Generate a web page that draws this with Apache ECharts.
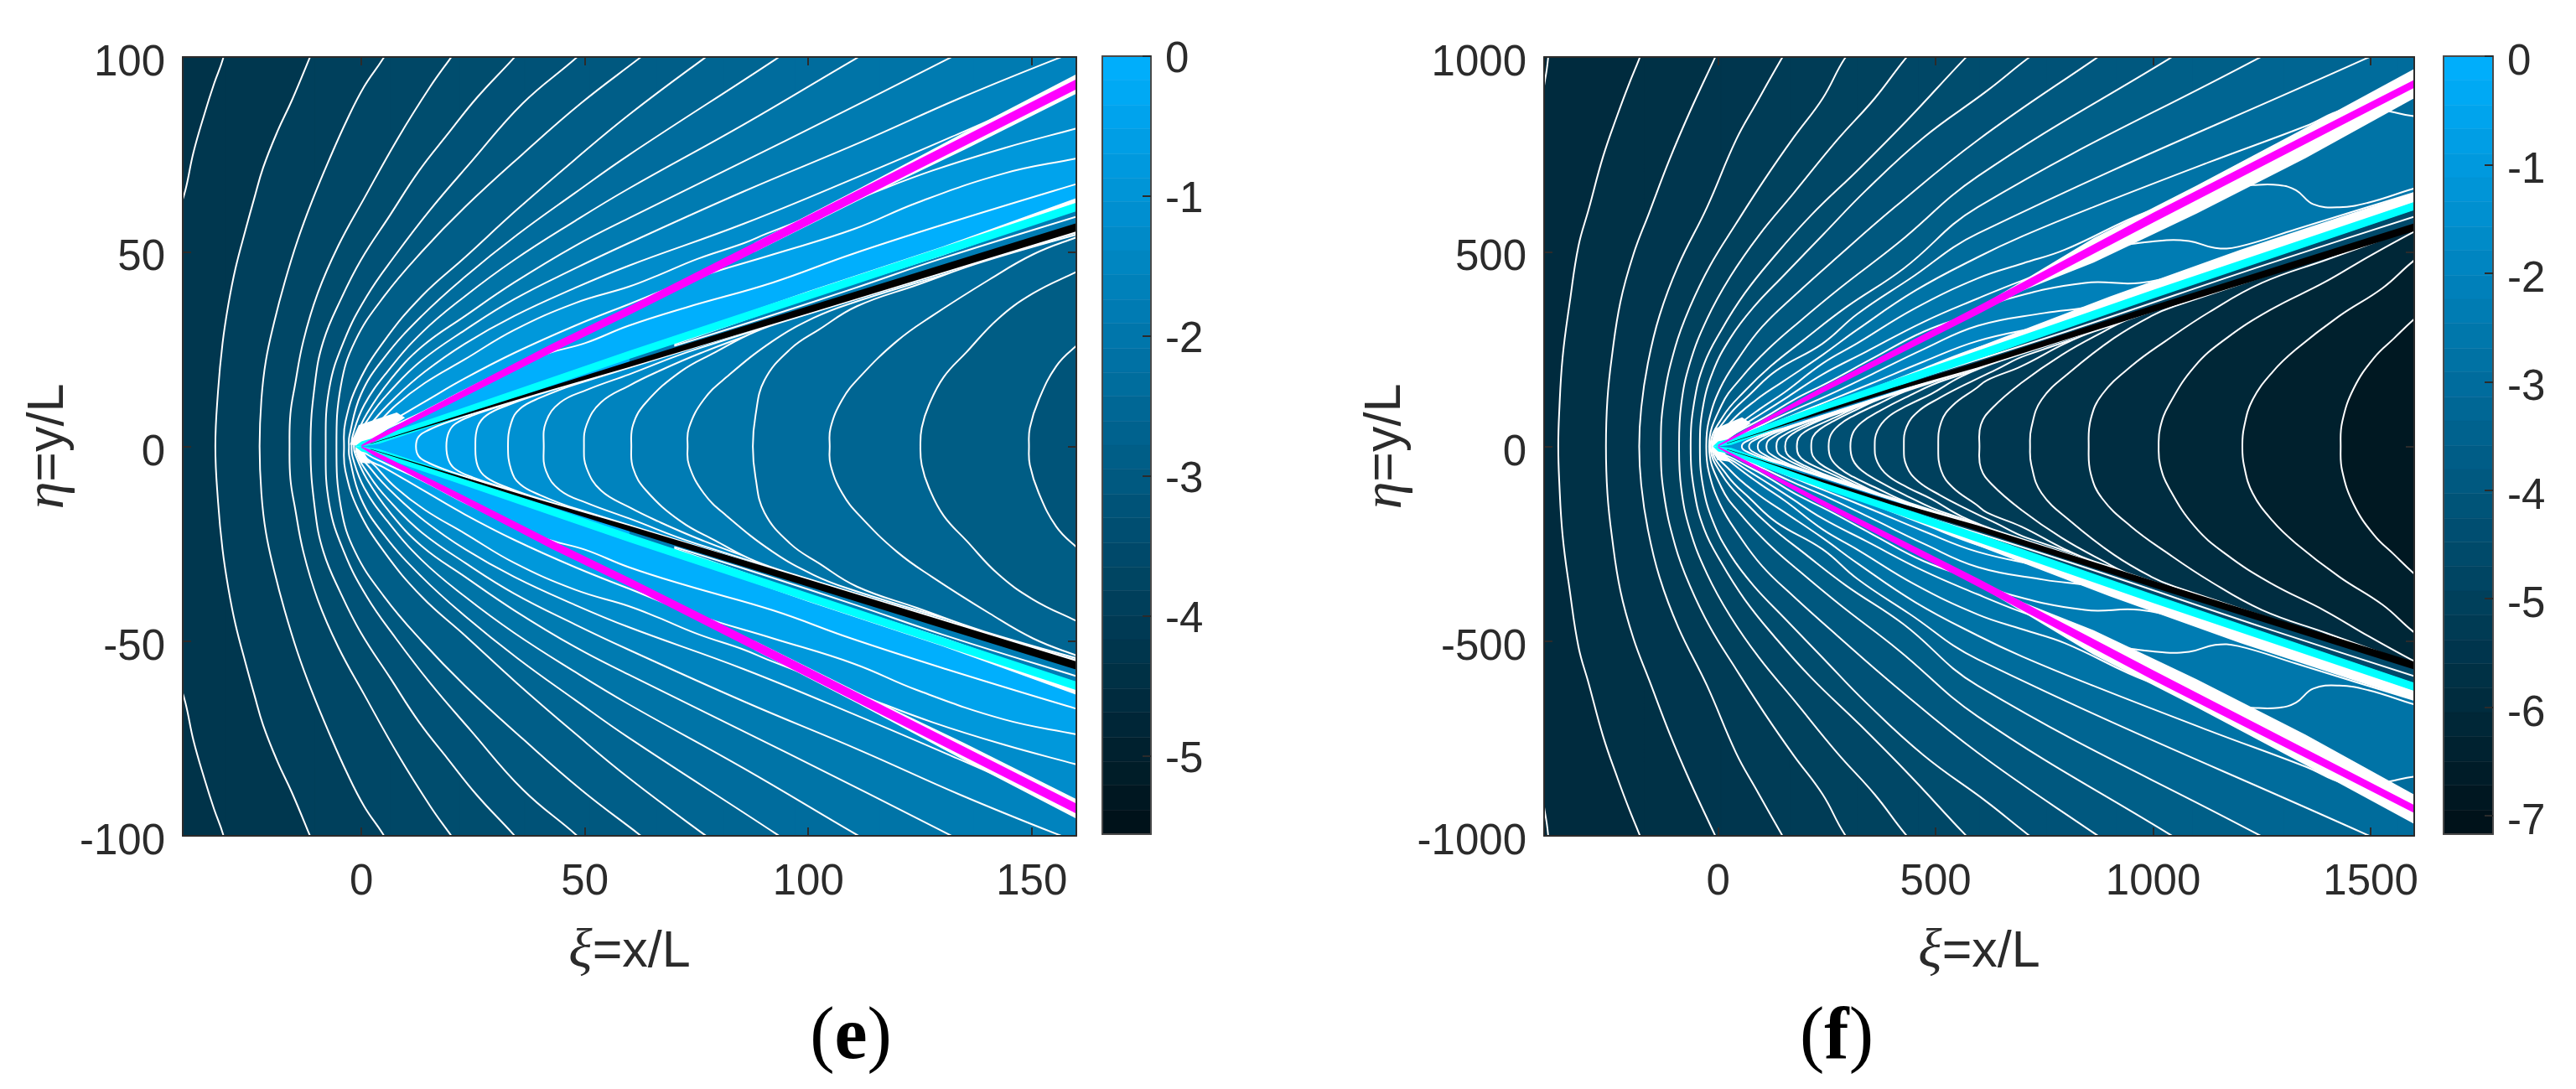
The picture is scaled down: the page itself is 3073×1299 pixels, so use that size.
<!DOCTYPE html>
<html><head><meta charset="utf-8"><style>html,body{margin:0;padding:0;background:#fff}#c{width:3073px;height:1299px}</style>
<script src="https://cdn.jsdelivr.net/npm/echarts@6/dist/echarts.min.js"></script></head><body><div id="c"></div>
<script>
// ---------- tick labels ----------
const eXTicks=[0,50,100,150], eYTicks=[-100,-50,0,50,100], eCbTicks=[0,-1,-2,-3,-4,-5];
const fXTicks=[0,500,1000,1500], fYTicks=[-1000,-500,0,500,1000], fCbTicks=[0,-1,-2,-3,-4,-5,-6,-7];
// ---------- colour-bar levels ----------
const eCbEdges=[0,-.17,-.35,-.52,-.70,-.87,-1.04,-1.22,-1.39,-1.56,-1.74,-1.91,-2.09,-2.26,-2.43,-2.61,-2.78,-2.95,-3.13,-3.30,-3.48,-3.65,-3.82,-4.00,-4.17,-4.34,-4.52,-4.69,-4.87,-5.04,-5.21,-5.39,-5.56];
const fCbEdges=[0,-.22,-.45,-.67,-.90,-1.12,-1.34,-1.57,-1.79,-2.02,-2.24,-2.46,-2.69,-2.91,-3.14,-3.36,-3.59,-3.81,-4.03,-4.26,-4.48,-4.70,-4.93,-5.15,-5.38,-5.60,-5.82,-6.05,-6.27,-6.50,-6.72,-6.95,-7.17];
// ---------- panel (e) contours: upper half, [xi, eta] ----------
const eOuter=[
[[-50,0],[-48,35],[-41,60],[-39.4,65.8],[-37.6,75.5],[-35,85.9],[-33,93.1],[-31,99.5],[-30.5,103]],
[[-32.7,0],[-32.1,14.2],[-31.1,26.4],[-29.8,36.4],[-28.2,45.7],[-25.9,55.8],[-24,63.7],[-22,71.6],[-18.8,80.9],[-15.6,88.8],[-11.7,99.5],[-10.5,103]],
[[-22.8,0],[-22.4,12],[-21.4,22],[-19.5,32.1],[-17.2,42.1],[-14.3,52.9],[-11.1,62.9],[-7.2,73.7],[-3.3,83.7],[.6,92.4],[4.8,99.5],[6.5,103]],
[[-16.1,0],[-15.9,8.4],[-14.9,15.6],[-13,27.1],[-9.8,39.3],[-5.2,51.5],[.6,63.7],[8.3,79.4],[15.4,92.4],[19.8,99.5],[22,103]],
[[-11.4,0],[-10.4,16.3],[-8.5,27.1],[-4.6,37.8],[-.1,47.9],[6.4,59.4],[12.9,70.8],[19.3,80.2],[25.8,89.5],[33.9,99.5],[36.5,103]],
[[-8,0],[-7.2,14.9],[-3.9,27.1],[1.2,38.6],[7.7,49.3],[15.4,60.8],[24.5,73],[36.1,88.1],[47.8,99.5],[51,103]],
[[-5.6,0],[-4.6,15.6],[-1.4,27.1],[5.1,38.6],[13.5,50],[23.2,61.5],[36.1,75.1],[49.1,88.1],[62,99.5],[66,103]],
[[-3.9,0],[-3.6,6.3],[-.7,16.3],[5.1,27.1],[13.5,38.6],[23.2,48.6],[34.8,60.8],[47.8,73.7],[59.9,85.2],[76.5,99.5],[81,103]],
[[-2.8,0],[-2.7,2.7],[-.1,13.4],[5.1,22.8],[13.5,33.5],[23.2,43.6],[34.8,54.3],[47.8,65.1],[59.8,74.8],[92.8,99.5],[97,103]],
[[-2.2,0],[-2,2.7],[.6,10.6],[5.8,19.2],[13.5,29.2],[23.2,38.6],[34.2,47.9],[47.8,57.9],[59.8,66.2],[85.6,82.7],[110.5,99.5],[116,103]],
[[-1.7,0],[-1.4,2],[1.2,8.4],[6.4,17],[13.5,25.6],[23.2,33.5],[34.2,42.1],[47.8,51.5],[59.8,58.6],[95.3,78.7],[131.2,99.5],[137,103]],
[[-1.2,0],[1.9,7.7],[7,14.9],[13.5,22.1],[23.2,29.9],[34.2,37.8],[47.8,45.7],[59.8,52.2],[85.6,65.5],[111.5,78],[134.1,89.5],[155.5,99.5],[164,103]],
[[-1,0],[2.5,6.3],[7.7,12.7],[14.2,19.2],[23.2,26.4],[34.2,33.5],[47.8,40.7],[59.8,46.4],[85.6,57.2],[111.5,69.4],[134.1,80.5],[165,96]],
[[-.8,0],[3.2,5.2],[7.7,10.6],[14.2,16.3],[23.2,22.4],[34.2,29.9],[47.8,36.8],[59.8,41],[66.3,43.9],[75.3,48.2],[85.6,52.2],[90.8,54.7],[112.8,64.4],[127.7,70.8],[143.8,76.6],[159.8,81.6],[166,83.5]],
[[-.7,0],[1.5,3.4],[5,5.4],[14,11.4],[23.2,17.5],[34.2,24],[47.8,31],[59.8,36.5],[74.7,43.2],[92.1,49.3],[110.2,55.8],[124.4,62.6],[143.8,70.1],[159.8,73.9],[166,75.3]],
[[-.6,0],[1.5,2.2],[5,4.2],[14,9],[23.2,14.5],[34.2,20.5],[42,24],[50,26.5],[59.8,31],[72.7,35.7],[92.1,42.1],[109.6,49.3],[130.9,57.2],[159.8,67.3],[166,69.3]]
];
const eOuterLevels=[-4.2,-3.9,-3.65,-3.45,-3.25,-3.05,-2.85,-2.6,-2.35,-2.1,-1.85,-1.55,-1.25,-.85,-.45,-.05];
const eInner=[
[[12.2,0],[12.8,2.5],[15,4.2],[20,6.5],[33,11.3],[166,58]],
[[19,0],[19.5,3.5],[21,5.8],[25,8],[33,11],[166,57.8]],
[[25.5,0],[26,5],[28,8],[33,10.7],[40,13.5],[166,57.7]],
[[32.8,0],[33.5,6],[35.5,9.7],[40,12.5],[48,16],[166,57.6]],
[[40.8,0],[41.3,6.3],[44.5,11.3],[50.4,14.5],[59.9,18.5],[75,25],[166,57.5]],
[[49.8,0],[50.4,5.6],[53.6,11.3],[59.9,15.6],[66.3,19.2],[76,24],[87.9,29],[166,57.3]],
[[60.4,0],[60.8,5.6],[63.7,11.3],[71.4,19.2],[79.2,24.2],[88.2,29.5],[98.6,33.5],[130,44.5],[166,57]],
[[73,0],[73.3,4.8],[76.6,12],[81.7,17.8],[92.1,27.1],[101.2,33],[108.9,36.5],[130,44],[166,56.5]],
[[87.6,0],[88.2,8],[90.2,17],[96,25],[102.4,30],[110.9,36],[124.4,41.5],[139.3,47.5],[166,56.2]],
[[104.8,0],[105,4.8],[107.6,12],[111.5,17.8],[119.9,27.1],[127.7,33.5],[140.6,42.9],[150.3,49.3],[159.8,53.6],[166,56]],
[[125.1,0],[125.4,4.8],[127,10.6],[130.3,17.8],[135.4,24.2],[142.5,32.8],[150.3,39.3],[159.8,44.7],[166,48]],
[[149.4,0],[149.6,4.8],[151.6,12],[155.5,20.6],[159.8,25.6],[166,31]]
];
const eInnerLevels=[-.4,-.65,-.9,-1.1,-1.35,-1.55,-1.8,-2.1,-2.35,-2.6,-2.9,-3.2];
const eStripLine=[[70,25.8],[90,33],[110,40.5],[130,48.3],[160,59],[166,61]];
const eStrip=[[60,21.5,22.8],[90,31.6,34.6],[130,46,50.5],[166,58,64]];
const eBlobUp=[[-2.6,.5],[-.6,5.5],[7.9,8.7],[9.75,7.4],[0,0]];
const eBlobDown=[[-1.5,-1],[-.2,-4.2],[2,-4.4],[.4,-1.2]];
const eMagentaHalo=[[88,49.9,52.3],[111,63,66],[135,76.2,80.7],[160,90.6,95.6],[166,94,99]];
const eCyanHalo=[[70,26,27.9],[100,38,39.9],[130,49,51.3],[160,61,63.8],[166,63,66]];
const eMagenta=[[0,0,.3],[3,1.3,2.5],[20,11,12.8],[42.6,24.1,26.3],[60,33.8,36],[90,51,53.5],[160,91.7,94.3],[166,95,98]];
const eCyan=[[-1.5,0,0],[0,0,1.3],[4,.7,2.6],[20,6.8,8.8],[60,22.5,24.6],[160,60.4,62.6],[166,62.7,65]];
const eBlack=[[2,.65,.75],[20,6.9,7.3],[40,13.8,14.6],[60,20.4,21.8],[100,34.2,36],[160,55.2,57.3],[166,57.3,59.5]];
// ---------- panel (f) contours ----------
const fOuter=[
[[-470,0],[-440,500],[-402,910],[-394,967],[-391,995],[-389,1030]],
[[-367.4,0],[-365.4,84],[-357.5,228],[-340.9,371],[-320.9,515],[-297.7,608],[-264.5,744],[-231.2,852],[-204.7,931],[-181.4,995],[-170,1030]],
[[-257.8,0],[-254.5,120],[-244.5,228],[-224.6,371],[-194.7,493],[-158.1,601],[-111.6,737],[-65.1,859],[-8.6,995],[6,1030]],
[[-181.4,0],[-176.7,99],[-161.5,213],[-134.9,335],[-91.7,464],[-25.2,615],[41.2,787],[87.7,881],[145.5,995],[165,1030]],
[[-131.6,0],[-124.9,120],[-98.3,256],[-65.1,357],[-18.6,464],[41.2,572],[107.6,687],[174.1,794],[240.5,894],[290.4,995],[320,1030]],
[[-89.7,0],[-85,106],[-65.1,213],[-25.2,328],[27.9,436],[94.4,543],[174.1,651],[273.8,787],[360.1,894],[429.9,995],[460,1030]],
[[-63.1,0],[-55.1,113],[-31.9,213],[8,300],[61.1,393],[127.6,486],[214,594],[326.9,716],[439.9,844],[566.1,995],[600,1030]],
[[-41.9,0],[-35.2,99],[-12,192],[27.9,278],[81.1,357],[154.2,443],[240.5,543],[340.2,658],[473.1,794],[617.9,913],[710.3,995],[755,1030]],
[[-27.2,0],[-21.9,63],[4.7,149],[47.8,228],[101,307],[174.1,386],[273.8,486],[406.6,615],[597.3,787],[866.4,995],[915,1030]],
[[-20.6,0],[8,106],[54.5,178],[114.3,249],[187.4,321],[280.4,407],[413.3,522],[597.3,694],[1035.9,995],[1090,1030]],
[[-17.3,0],[11.3,77],[61.1,142],[120.9,206],[194,271],[293.7,357],[426.6,457],[597.3,615],[1238.5,995],[1300,1030]],
[[-14,0],[21.3,75],[74.4,135],[134.2,195],[240,264],[320,340],[439.9,430],[597.3,547],[1486.6,995],[1560,1030]],
[[-12,0],[28,62],[88,120],[147,165],[240,235],[320,300],[453,400],[597,486],[700,540],[863.1,615],[1128.9,730],[1351.5,823],[1440,865],[1527.6,863],[1598.6,848],[1660,845]],
[[-10.6,0],[34.6,45],[94.4,95],[154,140],[240,213],[320,265],[453,355],[597.3,432],[700,470],[796.7,505],[989.4,604],[1175.4,665],[1228.6,671],[1288.4,671],[1328.2,658],[1368.1,622],[1427.9,614],[1494.4,626],[1598.6,662],[1660,680]],
[[-9.9,0],[41,42],[101,85],[161,128],[240,185],[340,243],[473,320],[597,380],[697,425],[903,507.6],[1009.3,527.6],[1082.4,527.6],[1142.2,509.7],[1195.3,512.6],[1328.2,557.7],[1598.6,651],[1660,672]],
[[-8.6,0],[41,35],[107.6,75],[174,120],[254,165],[353.5,225],[473,295],[597,345],[663.8,378.4],[843.2,420],[969.4,420],[1082.4,450],[1261.8,514.8],[1598.6,643],[1660,665]],
[[-7.9,0],[41,24],[107,58],[174,93],[254,132],[353,185],[473,250],[597.3,310],[750,342.6],[863,360],[996,400],[1261.8,505],[1598.6,635],[1660,658]],
[[-7.2,0],[41,21],[107,51],[174,81],[254,117],[353,162],[473,218],[597.3,271],[800,325],[1100,447],[1600,632],[1660,655]],
[[-6.8,0],[41,19],[107,47],[174,73],[254,105],[353,147],[473,200],[597.3,253],[800,320],[1100,435],[1600,625],[1660,648]]
];
const fOuterLevels=[-5.95,-5.7,-5.45,-5.2,-4.95,-4.7,-4.45,-4.2,-3.95,-3.65,-3.35,-3.05,-2.75,-2.55,-2.35,-2.15,-1.95,-1.7,-1.4];
const fInner=[
[[54.5,0],[57,7],[67,14],[85,23],[115,35],[160,50],[1660,590]],
[[71,0],[74,9],[85,17],[105,27],[135,40],[180,56],[1660,590]],
[[91,0],[94,11],[105,20],[125,32],[155,45],[200,62],[1660,590]],
[[111,0],[114,13],[126,24],[148,38],[180,53],[230,72],[1660,590]],
[[134,0],[137,16],[150,28],[175,43],[210,60],[260,80],[1660,589]],
[[154,0],[158,19],[172,33],[200,50],[240,70],[290,90],[1660,589]],
[[181,0],[185,22],[200,38],[230,55],[270,75],[330,105],[1660,588]],
[[214,0],[218,25],[235,45],[265,65],[310,90],[380,125],[1660,588]],
[[254,0],[259,30],[278,55],[310,78],[360,105],[440,145],[1660,587]],
[[304,0],[310,35],[330,62],[370,90],[430,125],[520,170],[1660,587]],
[[360,0],[366,40],[390,75],[435,105],[490,135],[560,180],[650,220],[1660,586]],
[[427,0],[433,50],[460,90],[510,125],[570,160],[640,198],[710,235],[1660,586]],
[[506,0],[513,63],[540,106],[593,149],[618,170],[697,206],[796.7,264],[863,295],[1660,585]],
[[600.7,0],[604,56],[630.6,99],[697,163],[790,235],[883,293],[949.5,329],[1660,585]],
[[717,0],[720,48],[743.5,120],[810,192],[909.6,278],[996,335],[1049,360],[1660,585]],
[[851.8,0],[856.5,70],[883,134],[949.5,206],[1029,271],[1129,345],[1250,420],[1400,480],[1660,585]],
[[1012.6,0],[1016,48],[1036,106],[1095.7,206],[1168.8,278],[1268.4,350],[1394.7,422],[1494.4,487],[1597,550],[1660,585]],
[[1205,0],[1208.6,48],[1228.6,120],[1275,192],[1328,249],[1428,335],[1527.6,407],[1597,475],[1660,525]],
[[1431,0],[1434.5,63],[1461,149],[1508,228],[1554,278],[1597,324],[1660,385]]
];
const fInnerLevels=[-2.5,-2.75,-3,-3.25,-3.45,-3.7,-3.95,-4.15,-4.35,-4.55,-4.75,-5,-5.2,-5.4,-5.6,-5.85,-6.15,-6.45,-6.8];
const fStripLine=[[400,155],[800,295],[1262,468],[1600,590],[1660,612]];
const fStrip=[[200,70,76],[597,210,228],[1000,352,382],[1660,575,630]];
const fBlobUp=[[-15,2],[-8,45],[55,75],[75,60],[0,0]];
const fBlobDown=[[-12,-5],[-2,-35],[30,-40],[10,-8]];
const fMagentaHalo=[[610,350,365],[700,400,425],[863,472,535],[1100,598,670],[1350,740,818],[1598,893,968],[1660,930,1005]];
const fCyanHalo=[[450,175,190],[597,240,255],[900,352,385],[1200,472,505],[1600,627,652],[1660,650,675]];
const fMagenta=[[0,0,4],[50,28,36],[240,138,153],[597,339,360],[1000,575,600],[1598,920,940],[1660,955,975]];
const fCyan=[[-12,0,0],[0,0,13],[30,4,20],[100,32,52],[240,88,108],[597,224,246],[1000,380,402],[1598,606,627],[1660,630,651]];
const fBlack=[[20,7,8],[100,35,37],[240,86,92],[400,141,150],[597,203,217],[1000,345,362],[1598,552,572],[1660,574,594]];

// ---------- helpers ----------
const INK='#2b2b2b', FONT='"Liberation Sans",Arial,sans-serif';
const WHITE='#ffffff', SMOOTH=0.42, LW=2;
function col(v,range){const t=Math.max(0,Math.min(1,(v+range)/range));
 return 'rgb(0,'+Math.round(16+160*t)+','+Math.round(22+233*t)+')';}
const series=[];
function contour(ax,pts,v,range,xFar){
 series.push({type:'custom',xAxisIndex:ax,yAxisIndex:ax,silent:true,clip:true,animation:false,z:2,
  data:pts,encode:{x:0,y:1},
  renderItem(p,api){
   if(p.dataIndex!==0)return null;
   const upFwd=pts.map(q=>api.coord([q[0],q[1]]));
   const low=pts.map(q=>api.coord([q[0],-q[1]]));
   const children=[];
   if(v===null){
    children.push({type:'polyline',silent:true,shape:{points:upFwd,smooth:SMOOTH},style:{fill:null,stroke:WHITE,lineWidth:LW}});
    children.push({type:'polyline',silent:true,shape:{points:low,smooth:SMOOTH},style:{fill:null,stroke:WHITE,lineWidth:LW}});
    return {type:'group',children};
   }
   const full=upFwd.slice().reverse().concat(low.slice(1));
   const last=pts[pts.length-1];
   const fill=col(v,range);
   children.push({type:'polygon',silent:true,shape:{points:[api.coord([last[0],last[1]]),api.coord([xFar,last[1]]),api.coord([xFar,-last[1]]),api.coord([last[0],-last[1]])]},
     style:{fill:fill,stroke:fill,lineWidth:1}});
   children.push({type:'polyline',silent:true,shape:{points:full,smooth:SMOOTH},
    style:{fill:fill,stroke:WHITE,lineWidth:LW}});
   return {type:'group',children};
  }});
}
function band(ax,pts,color){
 series.push({type:'custom',xAxisIndex:ax,yAxisIndex:ax,silent:true,clip:true,animation:false,z:2,
  data:pts,encode:{x:0,y:1},
  renderItem(p,api){
   if(p.dataIndex!==0)return null;
   const make=s=>{const a=pts.map(q=>api.coord([q[0],s*q[1]]));const b=pts.map(q=>api.coord([q[0],s*q[2]])).reverse();return a.concat(b);};
   return {type:'group',children:[1,-1].map(s=>({type:'polygon',silent:true,shape:{points:make(s)},style:{fill:color}}))};
  }});
}
function blob(ax,pts){
 series.push({type:'custom',xAxisIndex:ax,yAxisIndex:ax,silent:true,clip:true,animation:false,z:2,
  data:pts,encode:{x:0,y:1},
  renderItem(p,api){
   if(p.dataIndex!==0)return null;
   return {type:'polygon',silent:true,shape:{points:pts.map(q=>api.coord(q))},style:{fill:WHITE}};
  }});
}
function colorbar(ax,edges,range){
 const rows=edges.slice(1).map((e,i)=>[0,e,1,edges[i]]);
 series.push({type:'custom',xAxisIndex:ax,yAxisIndex:ax,silent:true,clip:true,animation:false,z:2,
  data:rows,encode:{x:0,y:1},
  renderItem(p,api){
   const a=api.coord([0,api.value(3)]),b=api.coord([1,api.value(1)]);
   const mid=(api.value(1)+api.value(3))/2;
   const c=col(mid,range);
   return {type:'rect',silent:true,shape:{x:a[0],y:a[1],width:b[0]-a[0],height:b[1]-a[1]},style:{fill:c,stroke:c,lineWidth:.5}};
  }});
}
function panel(ax,d){
 d.outer.forEach((c,i)=>contour(ax,c,d.outerL[i],d.range,d.far));
 band(ax,d.strip,col(d.stripV,d.range));
 d.inner.forEach((c,i)=>contour(ax,c,d.innerL[i],d.range,d.far));
 contour(ax,d.stripLine,null,d.range,d.far);
 blob(ax,d.blobUp);blob(ax,d.blobDown);
 band(ax,d.mHalo,WHITE);band(ax,d.cHalo,WHITE);
 band(ax,d.cyan,'#00ffff');band(ax,d.black,'#000000');band(ax,d.magenta,'#ff00ff');
}
panel(0,{outer:eOuter,outerL:eOuterLevels,inner:eInner,innerL:eInnerLevels,range:5.56,far:175,strip:eStrip,stripV:-1.8,stripLine:eStripLine,blobUp:eBlobUp,blobDown:eBlobDown,mHalo:eMagentaHalo,cHalo:eCyanHalo,cyan:eCyan,black:eBlack,magenta:eMagenta});
panel(1,{outer:fOuter,outerL:fOuterLevels,inner:fInner,innerL:fInnerLevels,range:7.17,far:1750,strip:fStrip,stripV:-4.6,stripLine:fStripLine,blobUp:fBlobUp,blobDown:fBlobDown,mHalo:fMagentaHalo,cHalo:fCyanHalo,cyan:fCyan,black:fBlack,magenta:fMagenta});
colorbar(2,eCbEdges,5.56);
colorbar(3,fCbEdges,7.17);

const W=3073,H=1299;
const rows=[
 {l:218,r:1284,t:68,b:997,bg:col(-4.35,5.56)},
 {l:1842,r:2880,t:68,b:997,bg:col(-6.1,7.17)},
 {l:1315,r:1373,t:67,b:995,bg:'transparent'},
 {l:2915,r:2974,t:67,b:995,bg:'transparent'}];
const grid=rows.map(g=>({left:g.l,top:g.t,width:g.r-g.l,height:g.b-g.t,show:true,backgroundColor:g.bg,borderWidth:0,containLabel:false}));
const lineOf=c=>({show:true,onZero:false,lineStyle:{color:c,width:2}});
const tick=(vals)=>({show:true,inside:true,length:10,customValues:vals,lineStyle:{color:INK,width:2}});
const plain=v=>String(v);
const labelStyle={color:INK,fontFamily:FONT,fontSize:51,formatter:plain};
const nameRich={i:{fontFamily:'"Liberation Serif",serif',fontStyle:'italic',fontSize:66,color:INK},t:{fontFamily:FONT,fontSize:61,color:INK}};
const xAxis=[],yAxis=[];
function plotAxes(idx,xmin,xmax,ymin,ymax,xT,yT,yName,yGap){
 xAxis.push({type:'value',gridIndex:idx,min:xmin,max:xmax,position:'bottom',z:10,splitLine:{show:false},axisLine:lineOf(INK),axisTick:tick(xT),
  axisLabel:{...labelStyle,customValues:xT,margin:30,hideOverlap:false},
  name:'{i|\u03BE}{t|=x/L}',nameLocation:'middle',nameGap:106,nameTextStyle:{rich:nameRich}});
 yAxis.push({type:'value',gridIndex:idx,min:ymin,max:ymax,position:'left',z:10,splitLine:{show:false},axisLine:lineOf(INK),axisTick:tick(yT),
  axisLabel:{...labelStyle,customValues:yT,margin:21,verticalAlign:'top',lineHeight:16},
  name:yName,nameLocation:'middle',nameGap:yGap,nameRotate:90,nameTextStyle:{rich:nameRich}});
}
plotAxes(0,-40,160,-100,100,eXTicks,eYTicks,'{i|\u03B7}{t|=y/L}',126);
plotAxes(1,-400,1600,-1000,1000,fXTicks,fYTicks,'{i|\u03B7}{t|=y/L}',151);
// colour-bar axes
function cbAxes(idx,min,ticks,lh){
 xAxis.push({type:'value',gridIndex:idx,min:0,max:1,position:'bottom',z:10,splitLine:{show:false},axisLine:lineOf('#4a4a4a'),axisTick:{show:false},axisLabel:{show:false}});
 yAxis.push({type:'value',gridIndex:idx,min:min,max:0,position:'right',z:10,splitLine:{show:false},axisLine:lineOf('#4a4a4a'),axisTick:tick(ticks),
  axisLabel:{...labelStyle,customValues:ticks,margin:17,verticalAlign:'top',lineHeight:lh}});
}
cbAxes(2,-5.56,eCbTicks,10);
cbAxes(3,-7.17,fCbTicks,16);
// mirrored box sides (indices 4..7)
function box(idx,xmin,xmax,ymin,ymax,xT,yT,c){
 xAxis.push({type:'value',gridIndex:idx,min:xmin,max:xmax,position:'top',z:10,splitLine:{show:false},axisLine:lineOf(c),axisTick:xT?tick(xT):{show:false},axisLabel:{show:false}});
 yAxis.push({type:'value',gridIndex:idx,min:ymin,max:ymax,position:yT?'right':'left',z:10,splitLine:{show:false},axisLine:lineOf(c),axisTick:yT?tick(yT):{show:false},axisLabel:{show:false}});
}
box(0,-40,160,-100,100,eXTicks,eYTicks,INK);
box(1,-400,1600,-1000,1000,fXTicks,fYTicks,INK);
box(2,0,1,-5.56,0,null,null,'#4a4a4a');
box(3,0,1,-7.17,0,null,null,'#4a4a4a');
const capRich={p:{fontFamily:'"Liberation Serif",serif',fontSize:88,fontWeight:'normal',color:'#000'},b:{fontFamily:'"Liberation Serif",serif',fontSize:88,fontWeight:'bold',color:'#000'}};
const option={animation:false,backgroundColor:'#fff',
 title:[{text:'{p|(}{b|e}{p|)}',left:1010,top:1190,textAlign:'center',textStyle:{fontWeight:'normal',rich:capRich}},
        {text:'{p|(}{b|f}{p|)}',left:2186,top:1190,textAlign:'center',textStyle:{fontWeight:'normal',rich:capRich}}],
 grid,xAxis,yAxis,series};
const chart=echarts.init(document.getElementById('c'),null,{renderer:'canvas',width:W,height:H});
chart.setOption(option);
</script></body></html>
